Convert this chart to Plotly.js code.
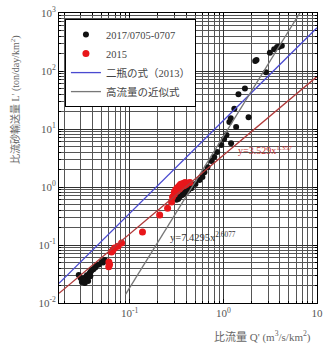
<!DOCTYPE html>
<html><head><meta charset="utf-8">
<script src="https://cdn.plot.ly/plotly-3.0.1.min.js"></script>
<style>html,body{margin:0;padding:0;background:#fff}#g{width:323px;height:344px}</style>
</head><body><div id="g"></div>
<script>
// --- data ---
const black2017X = [0.0286,0.0300,0.0309,0.0320,0.0332,0.0340,0.0350,0.0366,0.0375,0.0385,0.0394,0.041,0.043,0.0446,0.047,0.0504,0.052,0.0542,0.0330,0.036,0.038,
  0.33,0.36,0.40,0.42,0.45,0.38,
  0.316,0.340,0.385,0.414,0.457,0.504,0.556,0.598,0.628,0.676,0.745,0.80,0.86,0.95,1.02,1.08,1.16,1.37,1.21,1.20,1.31,1.45,1.70,1.86,2.19,2.26,2.85,3.14,3.49,3.75,3.94,4.21];
const black2017Y = [0.0304,0.027,0.023,0.026,0.0221,0.028,0.030,0.0304,0.033,0.035,0.037,0.038,0.041,0.045,0.046,0.051,0.050,0.055,0.025,0.024,0.029,
  0.62,0.72,0.80,0.87,0.95,0.85,
  0.60,0.67,0.76,0.85,0.96,1.13,1.32,1.49,1.8,2.2,2.8,3.3,4.0,5.3,6.7,7.9,13.2,10.8,5.7,15.3,22.4,39.6,50,15.9,149,155,95,207,236,259,262,273];
const red2015X = [0.0598,0.060,0.061,0.064,0.066,0.069,0.075,0.082,0.137,0.209,0.254,0.28,0.287,0.30,0.31,0.32,0.33,0.34,0.35,0.36,0.37,0.38,0.40,0.42,0.44,0.34,0.36,0.30,0.32,0.39,0.35];
const red2015Y = [0.042,0.051,0.046,0.076,0.080,0.089,0.095,0.108,0.168,0.33,0.43,0.55,0.67,0.82,0.90,0.95,1.0,1.05,0.98,1.1,1.15,1.05,1.1,1.17,1.2,0.92,1.02,0.75,0.85,1.2,1.12];
// power-law lines: y = a * x^b
const nihei = {a: 14, b: 1.6, xFrom: 0.0176, xTo: 10};
const fit2015 = {a: 3.529, b: 1.357, xFrom: 0.0176, xTo: 10};
const highFlow = {a: 7.4295, b: 2.6077, xFrom: 0.09, xTo: 6.6};
const legendNames = ['2017/0705-0707', '2015', '二瓶の式（2013）', '高流量の近似式'];
const xTickVals = [0.1, 1, 10];
const xTickText = ['10<sup>-1</sup>', '10<sup>0</sup>', '10'];
const yTickVals = [0.01, 0.1, 1, 10, 100, 1000];
const yTickText = ['10<sup>-2</sup>', '10<sup>-1</sup>', '10<sup>0</sup>', '10<sup>1</sup>', '10<sup>2</sup>', '10<sup>3</sup>'];

function powerLine(p) {
  const xs = [], ys = [];
  const n = 60;
  const l0 = Math.log10(p.xFrom), l1 = Math.log10(p.xTo);
  for (let i = 0; i <= n; i++) {
    const x = Math.pow(10, l0 + (l1 - l0) * i / n);
    xs.push(x); ys.push(p.a * Math.pow(x, p.b));
  }
  return {x: xs, y: ys};
}
function minorVals(lo, hi) {
  const v = [];
  for (let e = lo; e < hi; e++) for (let k = 2; k <= 9; k++) v.push(k * Math.pow(10, e));
  return v;
}
const serif = 'Liberation Serif, "Noto Sans CJK JP", serif';
const bl = powerLine(nihei), rl = powerLine(fit2015), gl = powerLine(highFlow);

const traces = [
  {x: black2017X, y: black2017Y, mode: 'markers', type: 'scatter', name: legendNames[0],
   marker: {color: '#111', size: 6}},
  {x: red2015X, y: red2015Y, mode: 'markers', type: 'scatter', name: legendNames[1],
   marker: {color: '#e8161a', size: 7}},
  {x: bl.x, y: bl.y, mode: 'lines', type: 'scatter', name: legendNames[2],
   line: {color: '#4a4ad0', width: 1.3}},
  {x: gl.x, y: gl.y, mode: 'lines', type: 'scatter', name: legendNames[3],
   line: {color: '#777', width: 1.3}},
  {x: rl.x, y: rl.y, mode: 'lines', type: 'scatter', showlegend: false,
   line: {color: '#b03a3a', width: 1.3}}
];
const axisCommon = {
  type: 'log', showline: true, linecolor: '#000', linewidth: 1, mirror: 'ticks',
  ticks: 'inside', ticklen: 4, tickcolor: '#000', tickmode: 'array',
  showgrid: true, gridcolor: '#333', gridwidth: 1, zeroline: false,
  tickfont: {family: serif, size: 11, color: '#555'}
};
const layout = {
  width: 323, height: 344,
  margin: {l: 59, r: 6, t: 13, b: 41},
  paper_bgcolor: '#fff', plot_bgcolor: '#fff',
  showlegend: true,
  xaxis: Object.assign({}, axisCommon, {
    range: [Math.log10(0.0176), 1], tickvals: xTickVals, ticktext: xTickText,
    minor: {tickvals: minorVals(-2, 1), showgrid: true, gridcolor: '#555', gridwidth: 1, ticks: 'inside', ticklen: 2, tickcolor: '#000'}
  }),
  yaxis: Object.assign({}, axisCommon, {
    range: [-2, 3], tickvals: yTickVals, ticktext: yTickText,
    minor: {tickvals: minorVals(-2, 3), showgrid: true, gridcolor: '#555', gridwidth: 1, ticks: 'inside', ticklen: 2, tickcolor: '#000'}
  }),
  legend: {x: 0.023, y: 0.979, xanchor: 'left', yanchor: 'top', bgcolor: '#fff',
    bordercolor: '#000', borderwidth: 1, font: {family: serif, size: 10.5, color: '#444'},
    tracegroupgap: 0},
  annotations: [
    {xref: 'paper', yref: 'paper', x: -0.1705, y: 0.70, xanchor: 'center', yanchor: 'middle',
     text: "比流砂輸送量 L' (ton/day/km<sup>2</sup>)",
     textangle: -90, showarrow: false, font: {family: serif, size: 10, color: '#666'}},
    {xref: 'paper', yref: 'paper', x: 0.787, y: -0.117, xanchor: 'center', yanchor: 'middle',
     text: "比流量 Q' (m<sup>3</sup>/s/km<sup>2</sup>)",
     showarrow: false, font: {family: serif, size: 11, color: '#666'}},
    {xref: 'paper', yref: 'paper', x: 0.80, y: 0.528, xanchor: 'center', yanchor: 'middle',
     text: 'y=3.529x<sup>1.357</sup>',
     showarrow: false, font: {family: serif, size: 10, color: '#c03030'}},
    {xref: 'paper', yref: 'paper', x: 0.56, y: 0.228, xanchor: 'center', yanchor: 'middle',
     text: 'y=7.4295x<sup>2.6077</sup>',
     showarrow: false, font: {family: serif, size: 10.5, color: '#333'}}
  ]
};
Plotly.newPlot('g', traces, layout, {staticPlot: true, displayModeBar: false});
</script></body></html>
